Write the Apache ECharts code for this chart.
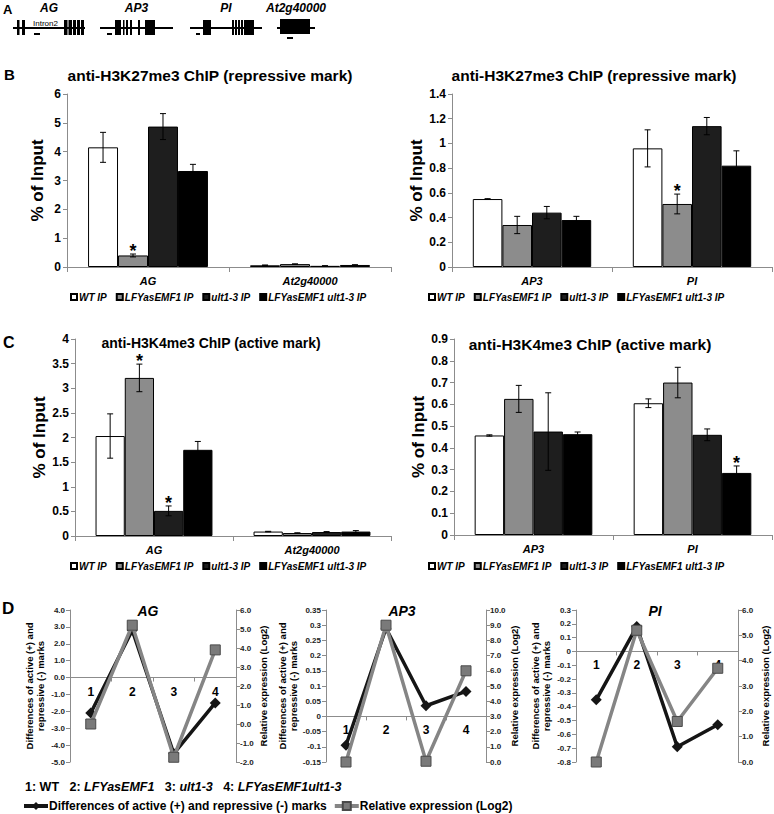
<!DOCTYPE html>
<html><head><meta charset="utf-8">
<script src="https://cdn.jsdelivr.net/npm/echarts@6/dist/echarts.min.js"></script>
<style>html,body{margin:0;padding:0;background:#fff}#c{width:774px;height:814px}</style>
</head><body><div id="c"></div>
<script>
// ================= DATA =================
const genotypes = ['WT IP', 'LFYasEMF1 IP', 'ult1-3 IP', 'LFYasEMF1 ult1-3 IP'];

// B: anti-H3K27me3 ChIP (values per genotype, one entry per gene)
const k27GenesLeft = ['AG', 'At2g40000'];
const k27ValuesLeft = [[4.15, 0.06], [0.40, 0.10], [4.87, 0.04], [3.33, 0.07]];
const k27ErrorsLeft = [[0.52, 0.01], [0.05, 0.01], [0.45, 0.005], [0.23, 0.01]];
const k27StarsLeft = [[1, 0]];            // [genotype, gene]
const k27GenesRight = ['AP3', 'PI'];
const k27ValuesRight = [[0.55, 0.96], [0.34, 0.51], [0.44, 1.14], [0.38, 0.82]];
const k27ErrorsRight = [[0.003, 0.15], [0.07, 0.08], [0.05, 0.07], [0.03, 0.12]];
const k27StarsRight = [[1, 1]];

// C: anti-H3K4me3 ChIP
const k4GenesLeft = ['AG', 'At2g40000'];
const k4ValuesLeft = [[2.03, 0.09], [3.21, 0.06], [0.51, 0.08], [1.75, 0.09]];
const k4ErrorsLeft = [[0.45, 0.005], [0.28, 0.005], [0.10, 0.01], [0.17, 0.02]];
const k4StarsLeft = [[1, 0], [2, 0]];
const k4GenesRight = ['AP3', 'PI'];
const k4ValuesRight = [[0.457, 0.605], [0.625, 0.70], [0.475, 0.46], [0.463, 0.285]];
const k4ErrorsRight = [[0.003, 0.02], [0.062, 0.07], [0.178, 0.027], [0.01, 0.032]];
const k4StarsRight = [[3, 1]];

// D: line charts
const lineCategories = ['1', '2', '3', '4'];
const markDiffName = 'Differences of active (+) and repressive (-) marks';
const exprName = 'Relative expression (Log2)';
const agMarkDiff = [-2.1, 2.8, -4.5, -1.5];
const agExpression = [0.0, 5.2, -1.75, 3.9];
const ap3MarkDiff = [-0.095, 0.29, 0.035, 0.082];
const ap3Expression = [0.0, 9.0, 0.05, 6.0];
const piMarkDiff = [-0.35, 0.18, -0.69, -0.53];
const piExpression = [0.0, 5.2, 1.6, 3.7];

// A: gene schematics (schematic units along the panel)
const geneNames = ['AG', 'AP3', 'PI', 'At2g40000'];
const geneSpans = [[13, 85], [100, 173], [190, 262], [277, 315]];
const geneExons = [
  [[17, 19.5], [22, 25], [64, 67.5], [68.5, 72], [73, 76], [77, 80], [81, 84]],
  [[115, 121], [123, 124.5], [126, 128], [130, 132], [138, 140], [145, 155]],
  [[203, 211], [232, 234], [235, 237], [238, 240], [241, 243], [244, 254]],
  [[280, 310]]
];
const geneProbes = [[34, 40], [107, 112], [196, 200], [287, 293]];

// ================= STYLE =================
const FONT = 'Liberation Sans, Arial, sans-serif';
const CAT_GAP = 0.26;
const barStyles = [
  { color: '#ffffff', borderColor: '#000', borderWidth: 1 },
  { color: '#8c8c8c', borderColor: '#000', borderWidth: 1 },
  { color: '#1e1e1e', borderColor: '#000', borderWidth: 1 },
  { color: '#000000', borderColor: '#000', borderWidth: 1 }
];
const axisGray = '#8c8c8c';

const grids = [
  { left: 0, top: 0, width: 774, height: 60 },
  { left: 67, top: 94, width: 324, height: 173 },
  { left: 452, top: 94, width: 320, height: 173 },
  { left: 75, top: 339, width: 316, height: 197 },
  { left: 454, top: 339, width: 318, height: 196 },
  { left: 70, top: 610, width: 166, height: 152 },
  { left: 326, top: 610, width: 160, height: 152 },
  { left: 576, top: 610, width: 162, height: 152 }
].map(g => Object.assign({ outerBoundsMode: 'none', containLabel: false }, g));

const xAxes = [];
const yAxes = [];
const series = [];
const titles = [];
const legends = [];

// ---- Panel A ----
xAxes.push({ type: 'value', gridIndex: 0, min: 0, max: 774, show: false });
yAxes.push({ type: 'value', gridIndex: 0, min: 0, max: 60, inverse: true, show: false });
const EXON_TOP = [20, 20, 20, 19], EXON_BOTTOM = [35, 35, 35, 34], LINE_Y = 28, PROBE_Y = [34, 34, 34, 38];
series.push({
  type: 'custom', xAxisIndex: 0, yAxisIndex: 0, silent: true,
  data: geneNames.map((n, i) => [i]),
  renderItem(params, api) {
    const g = params.dataIndex;
    const pt = (x, y) => api.coord([x, y]);
    const ch = [];
    const [s, e] = geneSpans[g];
    const a = pt(s, LINE_Y), b = pt(e, LINE_Y);
    ch.push({ type: 'line', shape: { x1: a[0], y1: a[1], x2: b[0], y2: b[1] }, style: { stroke: '#000', lineWidth: 2 } });
    geneExons[g].forEach(([x0, x1]) => {
      const p0 = pt(x0, EXON_TOP[g]), p1 = pt(x1, EXON_BOTTOM[g]);
      ch.push({ type: 'rect', shape: { x: p0[0], y: p0[1], width: p1[0] - p0[0], height: p1[1] - p0[1] }, style: { fill: '#000' } });
    });
    const q0 = pt(geneProbes[g][0], PROBE_Y[g]), q1 = pt(geneProbes[g][1], PROBE_Y[g]);
    ch.push({ type: 'line', shape: { x1: q0[0], y1: q0[1], x2: q1[0], y2: q1[1] }, style: { stroke: '#000', lineWidth: 2 } });
    const c = pt((s + e) / 2, 8);
    ch.push({ type: 'text', x: c[0], y: c[1], style: { text: geneNames[g], font: 'italic bold 12px ' + FONT, fill: '#000', align: 'center', verticalAlign: 'middle' } });
    if (g === 0) {
      const t = pt(45.5, 23.5);
      ch.push({ type: 'text', x: t[0], y: t[1], style: { text: 'Intron2', font: '8px ' + FONT, fill: '#000', align: 'center', verticalAlign: 'middle' } });
    }
    return { type: 'group', children: ch };
  }
});

// ---- Bar charts (B, C) ----
function errorSeries(k, values, errors, stars) {
  const data = [];
  values.forEach((vals, s) => vals.forEach((v, c) => {
    const star = stars.some(p => p[0] === s && p[1] === c) ? 1 : 0;
    data.push([c, v, errors[s][c], s, star]);
  }));
  return {
    type: 'custom', xAxisIndex: k, yAxisIndex: k, z: 5, silent: true,
    renderItem(params, api) {
      const c = api.value(0), v = api.value(1), e = api.value(2), s = api.value(3), star = api.value(4);
      const catW = api.size([1, 0])[0];
      const bw = catW * (1 - CAT_GAP) / 4;
      const x = api.coord([c, v])[0] + (s - 1.5) * bw;
      const yTop = api.coord([c, v + e])[1];
      const yBot = api.coord([c, v - e])[1];
      const cap = 3;
      const st = { stroke: '#000', lineWidth: 1 };
      const ch = [
        { type: 'line', shape: { x1: x, y1: yTop, x2: x, y2: yBot }, style: st },
        { type: 'line', shape: { x1: x - cap, y1: yTop, x2: x + cap, y2: yTop }, style: st },
        { type: 'line', shape: { x1: x - cap, y1: yBot, x2: x + cap, y2: yBot }, style: st }
      ];
      if (star) ch.push({ type: 'text', x: x, y: yTop - 12, style: { text: '*', font: 'bold 18px ' + FONT, fill: '#000', align: 'center', verticalAlign: 'top' } });
      return { type: 'group', children: ch };
    },
    data
  };
}

function barChart(k, genes, values, errors, stars, max, interval, nameGap) {
  xAxes.push({
    type: 'category', gridIndex: k, data: genes,
    axisLine: { lineStyle: { color: axisGray } },
    axisTick: { show: true, length: 5, lineStyle: { color: axisGray } },
    axisLabel: { interval: 0, fontWeight: 'bold', fontStyle: 'italic', fontSize: 11, color: '#000', margin: 8, fontFamily: FONT }
  });
  yAxes.push({
    type: 'value', gridIndex: k, min: 0, max: max, interval: interval,
    axisLine: { show: true, lineStyle: { color: axisGray } },
    axisTick: { show: true, length: 4, lineStyle: { color: axisGray } },
    splitLine: { show: false },
    axisLabel: { fontWeight: 'bold', fontSize: 12, color: '#000', margin: 6, fontFamily: FONT },
    name: '% of Input', nameLocation: 'middle', nameGap: nameGap,
    nameTextStyle: { fontWeight: 'bold', fontSize: 17, color: '#000', fontFamily: FONT }
  });
  values.forEach((vals, s) => series.push({
    type: 'bar', name: genotypes[s], xAxisIndex: k, yAxisIndex: k, data: vals,
    barGap: '0%', barCategoryGap: (CAT_GAP * 100) + '%', itemStyle: barStyles[s]
  }));
  series.push(errorSeries(k, values, errors, stars));
}

barChart(1, k27GenesLeft, k27ValuesLeft, k27ErrorsLeft, k27StarsLeft, 6, 1, 21);
barChart(2, k27GenesRight, k27ValuesRight, k27ErrorsRight, k27StarsRight, 1.4, 0.2, 25);
barChart(3, k4GenesLeft, k4ValuesLeft, k4ErrorsLeft, k4StarsLeft, 4, 0.5, 26);
barChart(4, k4GenesRight, k4ValuesRight, k4ErrorsRight, k4StarsRight, 0.9, 0.1, 26);

function barLegend(left, top) {
  legends.push({
    data: genotypes, left: left, top: top, icon: 'rect', itemWidth: 6, itemHeight: 6, itemGap: 9,
    padding: 0, selectedMode: false,
    textStyle: { fontWeight: 'bold', fontStyle: 'italic', fontSize: 10, color: '#000', fontFamily: FONT, padding: [0, 0, 0, -3] }
  });
}
barLegend(70, 292);
barLegend(428, 292);
barLegend(70, 561);
barLegend(428, 561);

// ---- Line charts (D) ----
const f1 = v => v.toFixed(1);
function lineChart(k, yl, markDiff, expr, lMin, lMax, lInt, lFmt, rMin, rMax, rInt) {
  xAxes.push({
    type: 'category', gridIndex: k, data: lineCategories, boundaryGap: true,
    axisLine: { onZero: true, lineStyle: { color: axisGray } },
    axisTick: { show: true, length: 4, lineStyle: { color: axisGray } },
    axisLabel: { show: false }
  });
  yAxes.push({
    type: 'value', gridIndex: k, min: lMin, max: lMax, interval: lInt, position: 'left',
    axisLine: { show: true, onZero: false, lineStyle: { color: axisGray } },
    axisTick: { show: true, length: 4, lineStyle: { color: axisGray } },
    splitLine: { show: false },
    axisLabel: { fontWeight: 'bold', fontSize: 8, color: '#222', margin: 5, fontFamily: FONT, formatter: lFmt },
    name: 'Differences of active (+) and\nrepressive (-) marks', nameLocation: 'middle', nameGap: 24,
    nameTextStyle: { fontWeight: 'bold', fontSize: 9.5, color: '#000', lineHeight: 11, fontFamily: FONT }
  }, {
    type: 'value', gridIndex: k, min: rMin, max: rMax, interval: rInt, position: 'right',
    axisLine: { show: true, onZero: false, lineStyle: { color: axisGray } },
    axisTick: { show: true, length: 4, lineStyle: { color: axisGray } },
    splitLine: { show: false },
    axisLabel: { fontWeight: 'bold', fontSize: 8, color: '#222', margin: 4, fontFamily: FONT, formatter: f1 },
    name: exprName, nameLocation: 'middle', nameGap: 22,
    nameTextStyle: { fontWeight: 'bold', fontSize: 9.5, color: '#000', fontFamily: FONT }
  });
  // category labels "1".."4" placed next to the zero line of the left axis
  series.push({
    type: 'custom', xAxisIndex: k, yAxisIndex: yl, silent: true, z: 2,
    data: lineCategories.map((c, i) => [i, 0]),
    renderItem(params, api) {
      const p = api.coord([api.value(0), api.value(1)]);
      return { type: 'text', x: p[0], y: p[1] + 14, style: { text: lineCategories[params.dataIndex], font: 'bold 12px ' + FONT, fill: '#000', align: 'center', verticalAlign: 'middle' } };
    }
  });
  series.push({
    type: 'line', name: markDiffName, xAxisIndex: k, yAxisIndex: yl, data: markDiff,
    symbol: 'diamond', symbolSize: 11, z: 3,
    lineStyle: { color: '#151515', width: 3.5 }, itemStyle: { color: '#151515' }
  });
  series.push({
    type: 'line', name: exprName, xAxisIndex: k, yAxisIndex: yl + 1, data: expr,
    symbol: 'rect', symbolSize: 10, z: 4,
    lineStyle: { color: '#858585', width: 3.5 }, itemStyle: { color: '#7a7a7a', borderColor: '#4a4a4a', borderWidth: 1 }
  });
}
lineChart(5, 5, agMarkDiff, agExpression, -5, 4, 1, f1, -2, 6, 1);
lineChart(6, 7, ap3MarkDiff, ap3Expression, -0.15, 0.35, 0.05, null, 0, 10, 1);
lineChart(7, 9, piMarkDiff, piExpression, -0.8, 0.3, 0.1, null, 0, 6, 1);

legends.push({
  data: [markDiffName, exprName], left: 22, top: 800, itemWidth: 24, itemHeight: 10, itemGap: 6,
  padding: 0, selectedMode: false, lineStyle: { width: 4 },
  textStyle: { fontWeight: 'bold', fontSize: 12, color: '#000', fontFamily: FONT, padding: [0, 0, 0, -4] }
});

// ---- Titles / letters ----
function T(text, x, y, size, opts) {
  titles.push(Object.assign({
    text: text, left: x, top: y, padding: 0,
    textStyle: Object.assign({ fontSize: size, fontWeight: 'bold', color: '#000', fontFamily: FONT }, (opts && opts.ts) || {})
  }, (opts && opts.o) || {}));
}
T('A', 3, 3, 13);
T('B', 4, 67, 15);
T('C', 3, 334, 16);
T('D', 2, 600, 17);
T('anti-H3K27me3 ChIP (repressive mark)', 210, 67, 15.5, { o: { textAlign: 'center' } });
T('anti-H3K27me3 ChIP (repressive mark)', 594, 67, 15.5, { o: { textAlign: 'center' } });
T('anti-H3K4me3 ChIP (active mark)', 211, 336, 14, { o: { textAlign: 'center' } });
T('anti-H3K4me3 ChIP (active mark)', 590, 336, 15.5, { o: { textAlign: 'center' } });
T('AG', 148, 604, 14, { o: { textAlign: 'center' }, ts: { fontStyle: 'italic' } });
T('AP3', 402, 604, 14, { o: { textAlign: 'center' }, ts: { fontStyle: 'italic' } });
T('PI', 655, 604, 14, { o: { textAlign: 'center' }, ts: { fontStyle: 'italic' } });
T('1: WT   2: {i|LFYasEMF1}   3: {i|ult1-3}   4: {i|LFYasEMF1ult1-3}', 25, 780, 12.5, {
  ts: { rich: { i: { fontStyle: 'italic', fontWeight: 'bold', fontSize: 12.5, fontFamily: FONT, color: '#000' } } }
});

const chart = echarts.init(document.getElementById('c'), null, { renderer: 'svg', width: 774, height: 814 });
chart.setOption({
  animation: false,
  backgroundColor: '#fff',
  textStyle: { fontFamily: FONT },
  title: titles,
  legend: legends,
  grid: grids,
  xAxis: xAxes,
  yAxis: yAxes,
  series: series
});
</script></body></html>
